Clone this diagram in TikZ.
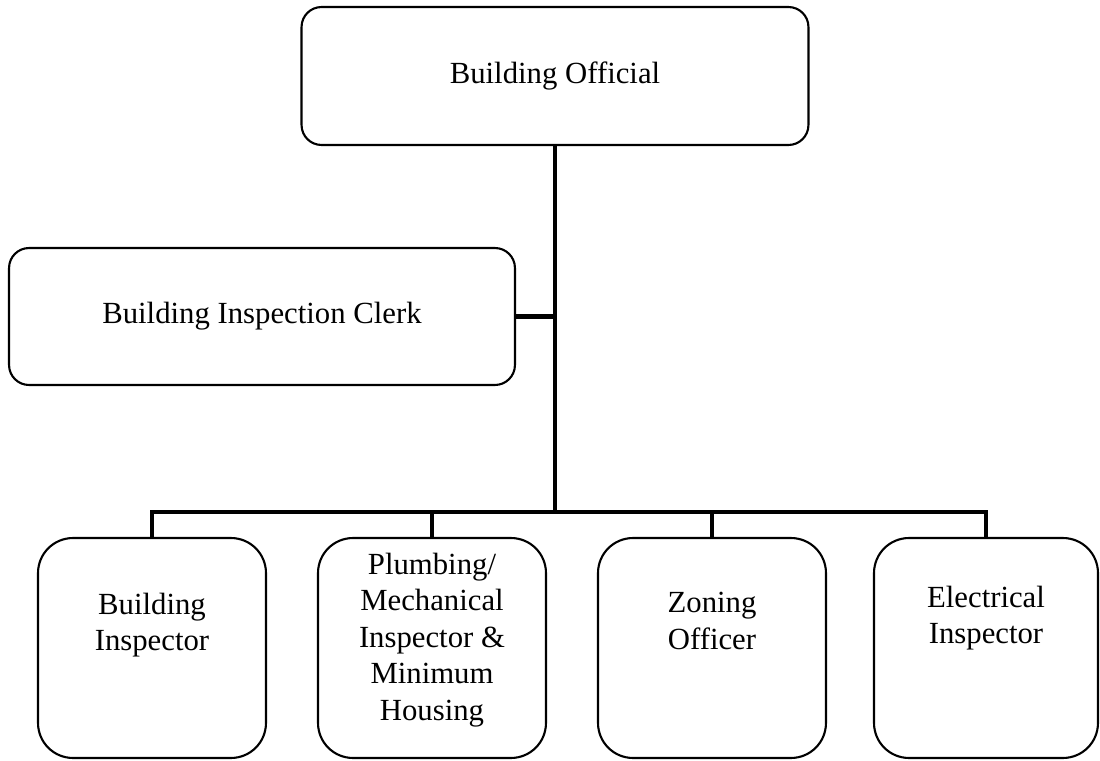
\documentclass[tikz,border=0pt]{standalone}
\usepackage{fontspec}
\setmainfont{Liberation Serif}
\usepackage{tikz}
\usetikzlibrary{calc}
\tikzset{
  box/.style={draw=black, line width=1.2pt, rounded corners=0.4cm, align=center,
    font=\fontsize{17.5}{20.8}\selectfont, inner sep=0pt},
  tall/.style={box, rounded corners=0.7cm, minimum width=4.56cm, minimum height=4.4cm},
  lbl/.style={align=center, font=\fontsize{17.5}{20.8}\selectfont, inner sep=0pt},
  conn/.style={draw=black, line width=2.8pt, line cap=rect},
}
\begin{document}
\begin{tikzpicture}[x=0.02cm, y=-0.02cm]
  \useasboundingbox (0,0) rectangle (1100,761);
  \node[box, minimum width=10.14cm, minimum height=2.76cm] (official) at (555,76) {Building Official};
  \node[box, minimum width=10.12cm, minimum height=2.74cm] (clerk) at (262,316.5) {Building Inspection Clerk};
  \node[tall, label={[lbl, yshift=0.46cm]center:Building\\Inspector}] (bldg) at (152,648) {};
  \node[tall, label={[lbl, yshift=0.16cm]center:Plumbing/\\Mechanical\\Inspector \&\\Minimum\\Housing}] (plumb) at (432,648) {};
  \node[tall, label={[lbl, yshift=0.54cm]center:Zoning\\Officer}] (zoning) at (712,648) {};
  \node[tall, minimum width=4.48cm, label={[lbl, yshift=0.6cm]center:Electrical\\Inspector}] (elec) at (986,648) {};
  \coordinate (bar) at (0,512);
  \draw[conn] (official.south) -- (official.south |- bar);
  \draw[conn] (clerk.east) -- (clerk.east -| official.south);
  \draw[conn] (bldg.north) -- (bldg.north |- bar) -- (elec.north |- bar) -- (elec.north);
  \foreach \n in {plumb,zoning}
    \draw[conn] (\n.north) -- (\n.north |- bar);
\end{tikzpicture}
\end{document}
